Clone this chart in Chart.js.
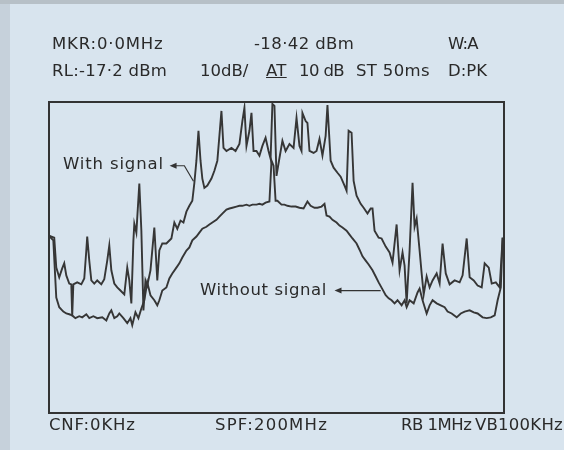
<!DOCTYPE html>
<html>
<head>
<meta charset="utf-8">
<script src="https://cdn.jsdelivr.net/npm/chart.js@4.4.1/dist/chart.umd.min.js"></script>
<style>
  html, body { margin: 0; padding: 0; }
  body {
    width: 564px; height: 450px; position: relative; overflow: hidden;
    background: #d8e4ee; color: #2a2a2a;
    font-family: "DejaVu Sans", sans-serif;
  }
  #edgeLeft { position: absolute; left: 0; top: 0; width: 10px; height: 450px; background: #c6d1db; }
  #edgeTop { position: absolute; left: 0; top: 0; width: 564px; height: 4px; background: #b7c0c7; }
  #wrap { position: absolute; left: 0; top: 0; }
  .t { position: absolute; font-size: 16.5px; line-height: 16px; white-space: nowrap; }
</style>
</head>
<body>
<div id="edgeLeft"></div>
<div id="edgeTop"></div>
<div id="wrap"><canvas id="spectrumChart" width="564" height="450"></canvas></div>

<div class="t" style="left:52px;top:36px;letter-spacing:0.85px">MKR:0·0MHz</div>
<div class="t" style="left:254px;top:36px;letter-spacing:0.4px">-18·42 dBm</div>
<div class="t" style="left:448px;top:36px;letter-spacing:-0.8px">W:A</div>
<div class="t" style="left:52px;top:63px;letter-spacing:0.25px">RL:-17·2 dBm</div>
<div class="t" style="left:200px;top:63px">10dB/</div>
<div class="t" style="left:266px;top:63px;letter-spacing:0.3px;text-decoration:underline">AT</div>
<div class="t" style="left:299px;top:63px;letter-spacing:-0.6px">10 dB</div>
<div class="t" style="left:356px;top:63px;letter-spacing:0.35px">ST 50ms</div>
<div class="t" style="left:448px;top:63px">D:PK</div>
<div class="t" style="left:49px;top:417px;letter-spacing:0.85px">CNF:0KHz</div>
<div class="t" style="left:215px;top:417px;letter-spacing:1.2px">SPF:200MHz</div>
<div class="t" style="left:401px;top:417px;letter-spacing:-0.5px">RB 1MHz</div>
<div class="t" style="left:475px;top:417px;letter-spacing:0.25px">VB100KHz</div>
<div class="t" style="left:63px;top:156px;letter-spacing:0.85px">With signal</div>
<div class="t" style="left:200px;top:282px;letter-spacing:0.6px">Without signal</div>

<script>
// frequency offset from centre (MHz) and level (dBm)
const freqWith = [-100, -97.7, -96.8, -95.5, -94.2, -93.3, -92.4, -91.1, -90.2, -89.8, -89.3, -87.6, -85.8, -84.5, -83.6, -83.2, -82.3, -81.4, -80.1, -78.8,
  -77.0, -75.7, -74.4, -73.5, -72.6, -71.3, -70.0, -68.6, -66.9, -65.6, -64.7, -63.8, -62.9, -62.5, -61.6, -60.3, -59.4, -58.5, -57.6, -56.8,
  -55.4, -53.7, -52.4, -51.5, -50.2, -48.4, -46.2, -44.9, -43.6, -42.2, -40.9, -39.6, -38.3, -37.0, -36.1, -35.2, -34.3, -33.4, -32.6, -31.7,
  -30.4, -28.6, -27.3, -26.0, -25.1, -24.2, -23.3, -22.0, -19.8, -18.0, -16.3, -15.0, -14.1, -13.2, -11.9, -11.0, -10.1, -8.8, -7.5, -6.2,
  -4.8, -3.5, -2.6, -1.8, -0.9, 0, 1.3, 2.6, 4.0, 5.7, 7.5, 8.8, 10.1, 11.0, 11.4, 12.8, 13.6, 14.5, 16.3, 17.6,
  18.9, 20.2, 21.6, 22.4, 23.8, 25.1, 26.8, 28.2, 29.9, 30.8, 31.7, 33.0, 33.9, 35.2, 37.0, 38.3, 40.0, 41.4, 42.2, 43.1,
  44.9, 46.2, 48.0, 49.7, 51.0, 52.8, 54.1, 55.4, 56.3, 57.2, 58.5, 59.8, 60.7, 61.6, 62.9, 63.8, 64.7, 66.0, 67.3, 68.6,
  70.4, 71.7, 73.0, 74.4, 76.1, 78.3, 80.5, 81.8, 83.6, 84.9, 86.7, 88.4, 90.2, 91.5, 93.3, 94.6, 96.4, 98.1, 99.4];
const levelWith = [-51.6, -52.1, -59.8, -62.3, -60.0, -58.7, -61.8, -63.9, -64.1, -72.3, -64.1, -63.6, -64.1, -62.6, -55.4, -51.8, -58.0, -63.1, -63.9, -63.1,
  -64.1, -62.8, -58.0, -54.1, -60.5, -63.9, -64.9, -65.7, -66.7, -59.8, -63.1, -69.0, -52.8, -48.5, -50.8, -38.2, -50.3, -70.8, -63.1, -64.4,
  -60.5, -49.5, -63.1, -55.4, -53.6, -53.6, -52.3, -48.2, -49.8, -47.7, -48.2, -45.4, -43.9, -42.6, -38.0, -32.3, -24.6, -32.3, -36.9, -39.3,
  -38.7, -36.9, -34.9, -32.3, -25.9, -19.5, -29.0, -29.8, -29.0, -29.8, -28.0, -22.1, -18.7, -28.5, -24.6, -20.0, -29.8, -29.8, -31.0, -28.5,
  -26.4, -29.8, -31.8, -17.7, -18.2, -36.2, -31.6, -27.2, -29.8, -28.0, -29.0, -21.3, -28.5, -29.8, -20.0, -22.1, -22.6, -29.8, -30.3, -29.8,
  -26.7, -31.0, -25.9, -18.0, -32.3, -34.1, -35.4, -36.4, -38.7, -40.0, -24.6, -25.1, -37.5, -41.3, -43.4, -44.4, -45.9, -44.6, -44.6, -50.3,
  -52.1, -52.3, -54.4, -55.9, -58.5, -48.7, -60.5, -55.9, -59.3, -69.0, -55.4, -38.0, -49.3, -47.2, -55.4, -61.3, -66.7, -62.1, -64.9, -63.1,
  -61.3, -63.9, -53.6, -61.3, -64.1, -63.1, -63.6, -61.8, -52.3, -62.3, -63.1, -64.4, -64.9, -58.7, -59.8, -63.9, -63.6, -64.9, -52.1];

const freqWithout = [-100, -98.1, -96.8, -95.5, -93.7, -92.4, -91.1, -89.8, -88.4, -86.7, -85.4, -83.6, -82.3, -80.5, -78.8, -76.6, -74.8, -73.5, -72.6, -71.3,
  -70.0, -69.1, -67.3, -65.6, -64.2, -63.4, -62.0, -60.7, -59.4, -58.1, -56.8, -55.4, -53.7, -52.4, -51.5, -50.2, -48.4, -47.1, -45.8, -44.0,
  -42.7, -41.4, -39.6, -38.3, -37.0, -35.2, -33.9, -32.6, -30.8, -29.5, -28.2, -26.4, -25.1, -23.8, -22.0, -20.7, -19.4, -17.6, -16.3, -15.0,
  -13.2, -11.9, -10.6, -8.8, -7.5, -6.2, -4.8, -3.1, -2.2, -1.3, -0.4, 0.4, 2.2, 3.5, 4.8, 6.6, 8.4, 10.1, 11.9, 13.6,
  15.0, 16.7, 18.0, 19.8, 21.1, 22.0, 23.3, 24.6, 26.4, 27.7, 29.0, 30.8, 32.1, 33.4, 35.2, 36.5, 37.8, 39.2, 40.5, 42.2,
  43.6, 44.9, 46.6, 48.0, 49.3, 50.6, 51.9, 53.2, 55.0, 56.3, 57.2, 58.5, 60.3, 62.0, 62.9, 64.2, 66.0, 67.3, 68.6, 70.4,
  72.2, 73.9, 75.2, 77.0, 79.2, 81.0, 82.7, 84.9, 86.7, 88.4, 90.6, 92.4, 94.2, 95.9, 97.2, 98.6, 99.4];
const levelWithout = [-51.6, -52.8, -67.5, -70.0, -71.1, -71.6, -71.8, -72.1, -72.8, -72.3, -72.6, -71.8, -72.8, -72.3, -72.8, -72.6, -73.4, -71.6, -70.8, -72.8,
  -72.3, -71.6, -72.8, -74.1, -72.8, -74.6, -71.3, -72.8, -70.3, -68.2, -63.6, -66.9, -68.2, -69.5, -68.2, -65.7, -64.9, -62.6, -61.3, -59.8,
  -58.7, -57.2, -55.4, -54.6, -52.8, -51.8, -50.8, -49.8, -49.3, -48.7, -48.2, -47.5, -46.7, -45.9, -44.9, -44.6, -44.4, -44.1, -43.9, -43.9,
  -43.6, -43.9, -43.6, -43.6, -43.4, -43.6, -43.1, -42.8, -32.3, -33.6, -42.6, -42.6, -43.6, -43.6, -43.9, -44.1, -44.1, -44.4, -44.6, -42.8,
  -43.9, -44.4, -44.4, -44.1, -43.4, -46.4, -46.7, -47.5, -48.2, -49.0, -49.5, -50.3, -51.3, -52.3, -53.6, -55.2, -56.9, -58.0, -59.0, -60.5,
  -62.1, -63.6, -65.4, -66.9, -67.7, -68.2, -69.0, -68.2, -69.5, -68.2, -70.0, -68.2, -69.0, -66.2, -65.2, -68.2, -71.6, -69.5, -68.2, -69.0,
  -69.5, -70.0, -71.1, -71.6, -72.6, -71.6, -71.1, -70.8, -71.3, -71.6, -72.6, -72.8, -72.6, -72.1, -68.2, -64.9, -52.1];

// analyser settings: RL -17.2 dBm, 10 dB/div, 8 divisions, span 200 MHz
const refLevel = -17.2;
const dbPerDiv = 10;
const vDivs = 8;
const spanMHz = 200;

// leader lines for the two labels, in MHz / dBm; arrow head on the first point
const leaders = [
    [[-47.0, -33.6], [-40.5, -33.6], [-36.5, -37.6]],
    [[25.5, -65.7], [45.8, -65.7]]
];

const traceColor = '#363636';

const framePlugin = {
    id: 'frame',
    afterDatasetsDraw(chart) {
        const ctx = chart.ctx;
        const a = chart.chartArea;
        const xs = chart.scales.x, ys = chart.scales.y;
        ctx.save();
        ctx.strokeStyle = '#333';
        ctx.lineWidth = 2;
        ctx.strokeRect(a.left, a.top, a.right - a.left, a.bottom - a.top);

        ctx.lineWidth = 1.2;
        ctx.fillStyle = '#333';
        leaders.forEach(pts => {
            const p = pts.map(d => [xs.getPixelForValue(d[0]), ys.getPixelForValue(d[1])]);
            ctx.beginPath();
            ctx.moveTo(p[0][0] + 5, p[0][1]);
            for (let i = 1; i < p.length; i++) ctx.lineTo(p[i][0], p[i][1]);
            ctx.stroke();
            ctx.beginPath();
            ctx.moveTo(p[0][0], p[0][1]);
            ctx.lineTo(p[0][0] + 7, p[0][1] - 3);
            ctx.lineTo(p[0][0] + 7, p[0][1] + 3);
            ctx.closePath();
            ctx.fill();
        });
        ctx.restore();
    }
};

new Chart(document.getElementById('spectrumChart'), {
    type: 'line',
    data: {
        datasets: [{
            label: 'With signal',
            data: freqWith.map((f, i) => ({ x: f, y: levelWith[i] })),
            borderColor: traceColor,
            borderWidth: 1.9,
            pointRadius: 0,
            tension: 0
        }, {
            label: 'Without signal',
            data: freqWithout.map((f, i) => ({ x: f, y: levelWithout[i] })),
            borderColor: traceColor,
            borderWidth: 1.9,
            pointRadius: 0,
            tension: 0
        }]
    },
    options: {
        responsive: false,
        animation: false,
        layout: { padding: { left: 49, right: 60, top: 102, bottom: 37 } },
        plugins: {
            legend: { display: false },
            tooltip: { enabled: false }
        },
        scales: {
            x: { type: 'linear', min: -spanMHz / 2, max: spanMHz / 2, display: false },
            y: { min: refLevel - dbPerDiv * vDivs, max: refLevel, display: false }
        }
    },
    plugins: [framePlugin]
});
</script>
</body>
</html>
